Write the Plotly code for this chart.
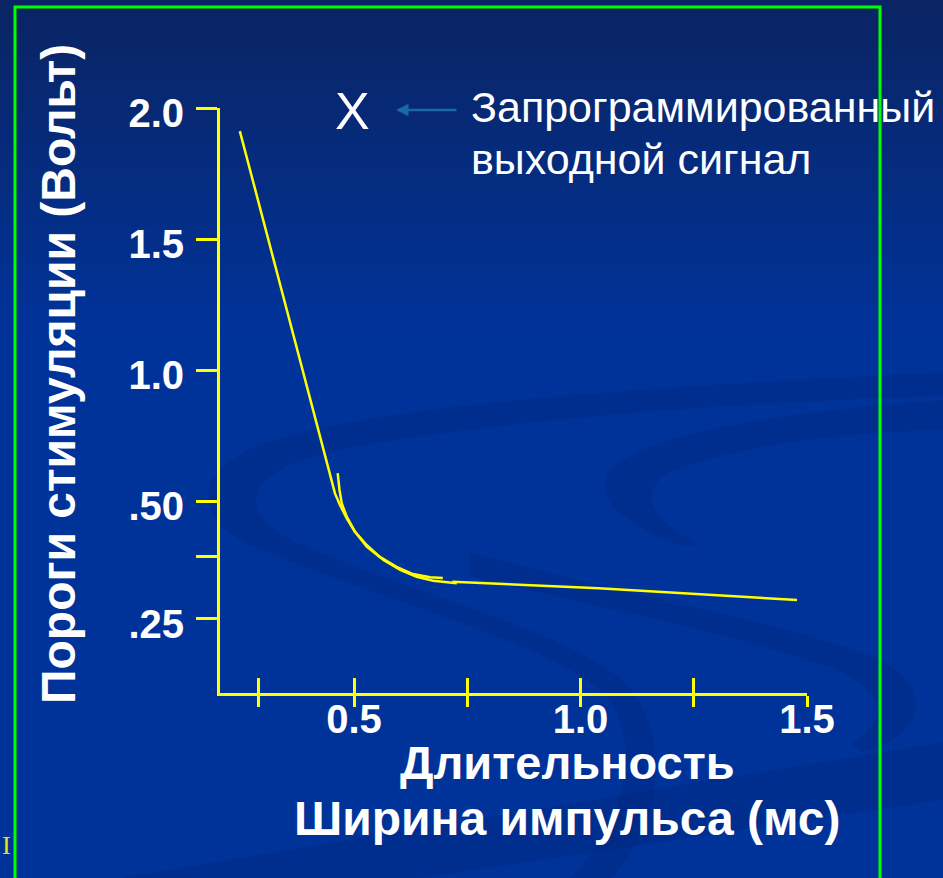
import plotly.graph_objects as go

# ---------------- data (in axis units) ----------------
curve_a_x = [0.248, 0.458, 0.469, 0.484, 0.502, 0.528, 0.557, 0.594, 0.630, 0.668, 0.696]
curve_a_y = [1.912, 0.529, 0.485, 0.434, 0.383, 0.332, 0.287, 0.249, 0.221, 0.209, 0.206]

curve_b_x = [0.464, 0.468, 0.473, 0.484, 0.502, 0.528, 0.565, 0.602, 0.638, 0.675, 0.727]
curve_b_y = [0.606, 0.542, 0.491, 0.440, 0.383, 0.326, 0.275, 0.237, 0.211, 0.196, 0.186]

tail_x = [0.717, 1.040, 1.478]
tail_y = [0.192, 0.167, 0.122]

x_tickvals = [0.29, 0.5, 0.75, 1.0, 1.25, 1.5]
x_ticktext = ["", "0.5", "", "1.0", "", "1.5"]
y_tickvals = [2.0, 1.5, 1.0, 0.5, 0.29, 0.05]
y_ticktext = ["2.0", "1.5", "1.0", ".50", "", ".25"]

x_range = [0.2042, 1.5]
y_range = [-0.2328, 2.0]

# ---------------- layout geometry (pixels) ----------------
W, H = 943, 878
L, R, T, B = 220, 807, 108, 693

def px(x):
    return (x - L) / (R - L)

def py(y):
    return (B - y) / (B - T)

YELLOW = "#ffff00"
FONT = "Liberation Sans, Arial, sans-serif"

fig = go.Figure()
for xs, ys in [(curve_a_x, curve_a_y), (curve_b_x, curve_b_y), (tail_x, tail_y)]:
    fig.add_trace(go.Scatter(x=xs, y=ys, mode="lines",
                             line=dict(color=YELLOW, width=2.5),
                             hoverinfo="skip", showlegend=False))

# ---------------- background ----------------
shapes = []
top_c = (10, 36, 100)
base_c = (0, 51, 153)
nb = 30
grad_h = 340
for i in range(nb):
    t = i / (nb - 1)
    c = tuple(int(round(top_c[k] + (base_c[k] - top_c[k]) * t)) for k in range(3))
    y0 = i * grad_h / nb
    y1 = (i + 1) * grad_h / nb + 1
    shapes.append(dict(type="rect", xref="paper", yref="paper", layer="below",
                       x0=px(-5), x1=px(W + 5), y0=py(y1), y1=py(y0),
                       line=dict(width=0), fillcolor="rgb(%d,%d,%d)" % c))

def path(cmds):
    out = []
    for c in cmds:
        if isinstance(c, str):
            out.append(c)
        else:
            out.append("%.5f,%.5f" % (px(c[0]), py(c[1])))
    return " ".join(out)

swoosh_fill = "rgba(0,28,105,0.2)"
swooshes = [
    ["M", (943, 372), "C", (700, 385), (380, 400), (260, 445),
     "C", (190, 472), (195, 520), (250, 545),
     "C", (380, 600), (540, 640), (600, 690),
     "C", (650, 740), (620, 830), (570, 878),
     "L", (612, 878),
     "C", (665, 820), (672, 730), (622, 680),
     "C", (560, 628), (400, 590), (292, 540),
     "C", (232, 510), (250, 470), (330, 452),
     "C", (480, 420), (750, 402), (943, 396), "Z"],
    ["M", (943, 400), "C", (800, 410), (660, 430), (615, 465),
     "C", (590, 490), (610, 520), (680, 545),
     "L", (700, 545),
     "C", (650, 520), (640, 495), (665, 475),
     "C", (720, 447), (850, 432), (943, 430), "Z"],
    ["M", (470, 552), "C", (600, 590), (800, 625), (880, 660),
     "C", (935, 688), (925, 735), (862, 752),
     "L", (850, 744),
     "C", (892, 720), (885, 690), (832, 668),
     "C", (720, 630), (560, 598), (470, 577), "Z"],
    ["M", (120, 878), "L", (943, 742), "L", (943, 800), "L", (420, 878), "Z"],
]
for s in swooshes:
    shapes.append(dict(type="path", xref="paper", yref="paper", layer="below",
                       path=path(s), line=dict(width=0), fillcolor=swoosh_fill))

# green frame
shapes.append(dict(type="rect", xref="paper", yref="paper", layer="above",
                   x0=px(15), x1=px(880), y0=py(890), y1=py(7),
                   line=dict(color="#00ff00", width=3), fillcolor="rgba(0,0,0,0)"))

# ---------------- annotations ----------------
ann = []
ann.append(dict(text="X", x=px(352.5), y=py(111), xref="paper", yref="paper",
                xanchor="center", yanchor="middle", showarrow=False,
                font=dict(family=FONT, size=52, color="white")))
ann.append(dict(text="", x=px(396), y=py(110), xref="paper", yref="paper",
                ax=62, ay=0, axref="pixel", ayref="pixel", showarrow=True,
                arrowhead=2, arrowsize=1, arrowwidth=2.5, arrowcolor="#1a68a6"))
ann.append(dict(text="Запрограммированный", x=px(469), y=py(106.5), xref="paper", yref="paper",
                xanchor="left", yanchor="middle", showarrow=False,
                font=dict(family=FONT, size=43, color="white")))
ann.append(dict(text="выходной сигнал", x=px(469), y=py(159), xref="paper", yref="paper",
                xanchor="left", yanchor="middle", showarrow=False,
                font=dict(family=FONT, size=43, color="white")))
ann.append(dict(text="Длительность", x=px(567), y=py(762), xref="paper", yref="paper",
                xanchor="center", yanchor="middle", showarrow=False,
                font=dict(family=FONT, size=47, color="white", weight="bold")))
ann.append(dict(text="Ширина импульса (мс)", x=px(567), y=py(818), xref="paper", yref="paper",
                xanchor="center", yanchor="middle", showarrow=False,
                font=dict(family=FONT, size=48, color="white", weight="bold")))
ann.append(dict(text="Пороги стимуляции (Вольт)", x=px(58), y=py(374), xref="paper", yref="paper",
                xanchor="center", yanchor="middle", showarrow=False, textangle=-90,
                font=dict(family=FONT, size=48, color="white", weight="bold")))
ann.append(dict(text="I", x=px(0), y=py(845), xref="paper", yref="paper",
                xanchor="left", yanchor="middle", showarrow=False,
                font=dict(family="Liberation Serif, serif", size=26, color="#f0e010")))

fig.update_layout(
    width=W, height=H,
    margin=dict(l=L, r=W - R, t=T, b=H - B, pad=0),
    paper_bgcolor="rgb(0,51,153)",
    plot_bgcolor="rgba(0,0,0,0)",
    shapes=shapes, annotations=ann, showlegend=False,
    xaxis=dict(range=x_range, tickvals=x_tickvals, ticktext=x_ticktext,
               showgrid=False, zeroline=False, showline=True, linecolor=YELLOW, linewidth=3,
               ticks="outside", ticklen=11, tickwidth=2.5, tickcolor=YELLOW,
               tickfont=dict(family=FONT, size=40, color="white", weight="bold"),
               ticklabelstandoff=-22, fixedrange=True),
    xaxis2=dict(range=x_range, tickvals=x_tickvals, overlaying="x", anchor="y", side="bottom",
                showgrid=False, zeroline=False, showline=False, showticklabels=False,
                ticks="inside", ticklen=15, tickwidth=2.5, tickcolor=YELLOW, fixedrange=True),
    yaxis=dict(range=y_range, tickvals=y_tickvals, ticktext=y_ticktext,
               showgrid=False, zeroline=False, showline=True, linecolor=YELLOW, linewidth=3,
               ticks="outside", ticklen=21, tickwidth=3, tickcolor=YELLOW,
               tickfont=dict(family=FONT, size=40, color="white", weight="bold"),
               ticklabelstandoff=4, ticklabelshift=5, fixedrange=True),
)
# an invisible point on xaxis2 so the overlay axis (upward tick halves) is rendered
fig.add_trace(go.Scatter(x=[x_range[0]], y=[y_range[0]], xaxis="x2", yaxis="y",
                         mode="markers", marker=dict(opacity=0), hoverinfo="skip", showlegend=False))

fig.write_html("out.html", config={"displayModeBar": False},
               post_script="document.body.style.margin='0';document.body.style.padding='0';")
